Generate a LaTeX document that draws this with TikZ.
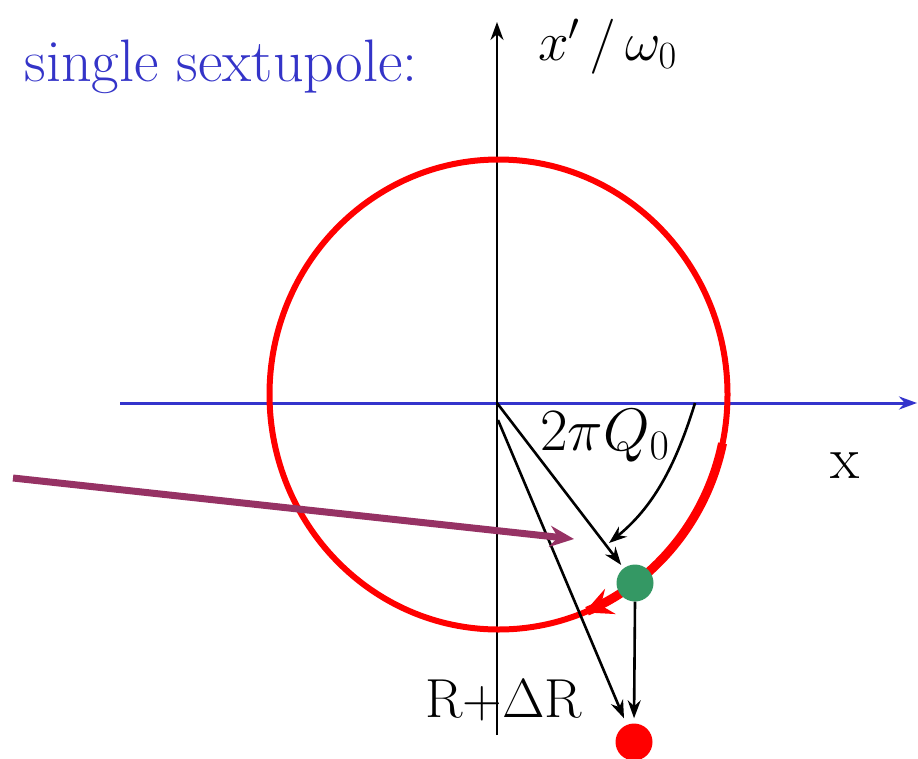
\RequirePackage{fix-cm}
\documentclass[tikz,border=0pt]{standalone}
\usetikzlibrary{arrows.meta}
\definecolor{axisblue}{RGB}{52,52,204}
\definecolor{textblue}{RGB}{52,52,200}
\definecolor{dotgreen}{RGB}{52,152,100}
\definecolor{purp}{RGB}{150,50,100}
\tikzset{
  big/.style={font=\fontsize{60}{66}\selectfont, inner sep=0pt, anchor=base west},
  mid/.style={font=\fontsize{55}{60}\selectfont, inner sep=0pt, anchor=base west},
  blk/.style={-{Stealth[length=18pt,width=13pt]}, line width=2.6pt},
  dot/.style={circle, minimum size=37pt, inner sep=0pt},
}
\begin{document}
\begin{tikzpicture}[x=1pt,y=-1pt]
\useasboundingbox (0,0) rectangle (918,758);
% axes
\coordinate (xs) at (120,403);
\coordinate (xe) at (917,403);
\coordinate (ys) at (497,735);
\coordinate (ye) at (497,22);
\coordinate (o) at (497,403);
\coordinate (o2) at (498,420);
\draw[axisblue, line width=3pt, -{Stealth[length=18pt,width=13pt]}] (xs) -- (xe);
\draw[black, line width=2.6pt, -{Stealth[length=18pt,width=13pt]}] (ys) -- (ye);
% circle
\draw[red, line width=6pt] (498.5,394.5) ellipse [x radius=229pt, y radius=235pt];
% thick arc with arrow
\draw[red, line width=9pt, -{Stealth[length=28pt,width=27pt,inset=10pt]}]
  plot[domain=12:68, samples=60, smooth] ({498.5+229*cos(\x)},{394.5+235*sin(\x)});
% dots
\node[dot, fill=dotgreen] (g) at (635,583) {};
\node[dot, fill=red] (r) at (634,742) {};
% black arrows
\draw[blk, shorten >=4pt] (o) -- (g);
\draw[blk, shorten >=7pt] (o2) -- (r);
\draw[blk, shorten >=5pt] (g.south) -- (r.north);
\coordinate (cs) at (695,403);
\coordinate (ce) at (609,543);
\draw[blk] (cs) .. controls (675,468) and (652,508) .. (ce);
% purple arrow
\coordinate (ps) at (13,478);
\coordinate (pe) at (574,539);
\draw[purp, line width=7pt, -{Stealth[length=24pt,width=21pt]}] (ps) -- (pe);
% labels
\node[big, anchor=base east, text=textblue] (title) at (418,81) {single sextupole:};
\node[mid] (ylab) at (538,60) {$x'\,/\,\omega_0$};
\node[big] (ang) at (540,450) {$2\pi Q_0$};
\node[big] (xlab) at (830,478) {x};
\node[mid] (rlab) at (425,717) {R+$\Delta$R};
\end{tikzpicture}
\end{document}
